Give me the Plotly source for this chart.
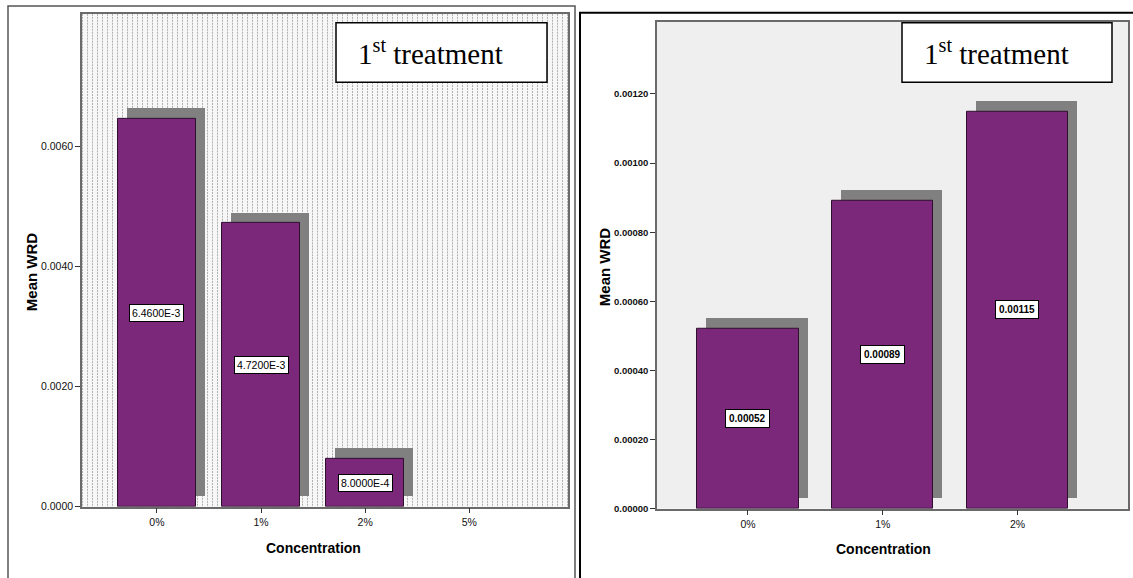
import base64
import plotly.graph_objects as go

W, H = 1133, 578

# Panel A: mean WRD per concentration (5% has no bar)
conc_a = ["0%", "1%", "2%", "5%"]
wrd_a = [0.00646, 0.00472, 0.0008, None]
yticks_a = [0.0, 0.002, 0.004, 0.006]

# Panel B: mean WRD per concentration
conc_b = ["0%", "1%", "2%"]
wrd_b = [0.00052, 0.00089, 0.00115]
yticks_b = [0.0, 0.0002, 0.0004, 0.0006, 0.0008, 0.0010, 0.0012]

PURPLE = "#7b287b"
SHADOW = "#808080"
SANS = "Liberation Sans, Arial, sans-serif"
SERIF = "Liberation Serif, Times New Roman, serif"
BAR_W = 0.75


def px(x):
    return x / W


def py(y):
    return 1 - y / H


def sci(v):
    m, e = f"{v:.4E}".split("E")
    return f"{m}E{int(e)}"


# pixel boxes of the two plot areas (left, top, right, bottom)
box_a = (82, 14, 568, 512)
box_b = (657, 22, 1128, 514)
xr_a = [-0.72, 3.948]
xr_b = [-0.675, 2.82]
yr_a = [0, 0.008209]
yr_b = [0, 0.001409]

fig = go.Figure()


def add_panel(vals, xa, ya, box, xr, yr, shadow_px=(9, 11)):
    dx = shadow_px[0] * (xr[1] - xr[0]) / (box[2] - box[0])
    dy = shadow_px[1] * (yr[1] - yr[0]) / (box[3] - box[1])
    xs = [i for i, v in enumerate(vals) if v is not None]
    ys = [v for v in vals if v is not None]
    fig.add_trace(go.Bar(
        x=[i + dx for i in xs], y=ys, base=dy, width=BAR_W,
        marker=dict(color=SHADOW, line=dict(width=0)),
        xaxis=xa, yaxis=ya, hoverinfo="skip"))
    fig.add_trace(go.Bar(
        x=xs, y=ys, width=BAR_W,
        marker=dict(color=PURPLE, line=dict(color="#2e0f2e", width=1)),
        xaxis=xa, yaxis=ya))


add_panel(wrd_a, "x", "y", box_a, xr_a, yr_a)
add_panel(wrd_b, "x2", "y2", box_b, xr_b, yr_b)

axis_common = dict(showline=True, mirror=True, linecolor="#6a6a6a", linewidth=1.5,
                   showgrid=False, zeroline=False, ticks="outside", ticklen=5,
                   tickwidth=1.2, tickcolor="#333")

fig.update_layout(
    width=W, height=H, margin=dict(l=0, r=0, t=0, b=0),
    paper_bgcolor="white", plot_bgcolor="#efefef",
    showlegend=False, barmode="overlay", bargap=0,
    xaxis=dict(domain=[px(box_a[0]), px(box_a[2])], range=xr_a, anchor="y",
               tickvals=list(range(len(conc_a))), ticktext=conc_a,
               tickfont=dict(family=SANS, size=10.5, color="#111"), **axis_common),
    yaxis=dict(domain=[py(box_a[3]), py(box_a[1])], range=yr_a, anchor="x",
               tickvals=yticks_a, tickformat=".4f",
               tickfont=dict(family=SANS, size=10.5, color="#111"), **axis_common),
    xaxis2=dict(domain=[px(box_b[0]), px(box_b[2])], range=xr_b, anchor="y2",
                tickvals=list(range(len(conc_b))), ticktext=conc_b,
                tickfont=dict(family=SANS, size=10.5, color="#111"), **axis_common),
    yaxis2=dict(domain=[py(box_b[3]), py(box_b[1])], range=yr_b, anchor="x2",
                tickvals=yticks_b, tickformat=".5f",
                tickfont=dict(family=SANS, size=9.5, color="#111", weight="bold"),
                **axis_common),
)

# dotted backdrop for panel A
pw, ph = box_a[2] - box_a[0], box_a[3] - box_a[1]
svg = (f'<svg xmlns="http://www.w3.org/2000/svg" width="{pw}" height="{ph}">'
       '<defs><pattern id="d" width="5" height="3" patternUnits="userSpaceOnUse">'
       '<rect width="5" height="3" fill="#f7f7f7"/>'
       '<rect x="0" y="0" width="1" height="2" fill="#b0b0b0"/></pattern></defs>'
       f'<rect width="{pw}" height="{ph}" fill="url(#d)"/></svg>')
uri = "data:image/svg+xml;base64," + base64.b64encode(svg.encode()).decode()
fig.add_layout_image(dict(source=uri, xref="x domain", yref="y domain", x=0, y=1,
                          sizex=1, sizey=1, sizing="stretch", xanchor="left",
                          yanchor="top", layer="below"))

# value labels at mid-height of each bar
for i, v in enumerate(wrd_a):
    if v is None:
        continue
    fig.add_annotation(x=i, y=v / 2, xref="x", yref="y", text=sci(v), showarrow=False,
                       font=dict(family=SANS, size=10.5, color="#000"),
                       bgcolor="white", bordercolor="#000", borderwidth=1, borderpad=2)
for i, v in enumerate(wrd_b):
    fig.add_annotation(x=i, y=v / 2, xref="x2", yref="y2", text=f"<b>{v:.5f}</b>",
                       showarrow=False, font=dict(family=SANS, size=10, color="#000"),
                       bgcolor="white", bordercolor="#000", borderwidth=1, borderpad=3)

# axis titles
for x, y in [(31, 275), (604, 270)]:
    fig.add_annotation(x=px(x), y=py(y), xref="paper", yref="paper", text="<b>Mean WRD</b>",
                       textangle=-90, showarrow=False, xanchor="center", yanchor="middle",
                       font=dict(family=SANS, size=15, color="#000"))
for x, y in [(313, 554), (883, 555)]:
    fig.add_annotation(x=px(x), y=py(y), xref="paper", yref="paper",
                       text="<b>Concentration</b>", showarrow=False,
                       xanchor="center", yanchor="middle",
                       font=dict(family=SANS, size=14, color="#000"))

# panel frames
fig.add_shape(type="rect", xref="paper", yref="paper", x0=px(8), x1=px(575),
              y0=py(590), y1=py(6), line=dict(color="#555", width=1.5))
fig.add_shape(type="rect", xref="paper", yref="paper", x0=px(580), x1=px(1145),
              y0=py(590), y1=py(13), line=dict(color="#000", width=2))

# treatment boxes
for x0, x1 in [(336, 547), (902, 1112)]:
    fig.add_shape(type="rect", xref="paper", yref="paper", x0=px(x0), x1=px(x1),
                  y0=py(83), y1=py(23), fillcolor="white", line=dict(color="#000", width=1.5))
    fig.add_annotation(x=px(x0 + 20), y=py(53), xref="paper", yref="paper",
                       xanchor="left", yanchor="middle", showarrow=False,
                       text="1<sup>st</sup> treatment",
                       font=dict(family=SERIF, size=29, color="#000"))

fig.write_html("out.html")
